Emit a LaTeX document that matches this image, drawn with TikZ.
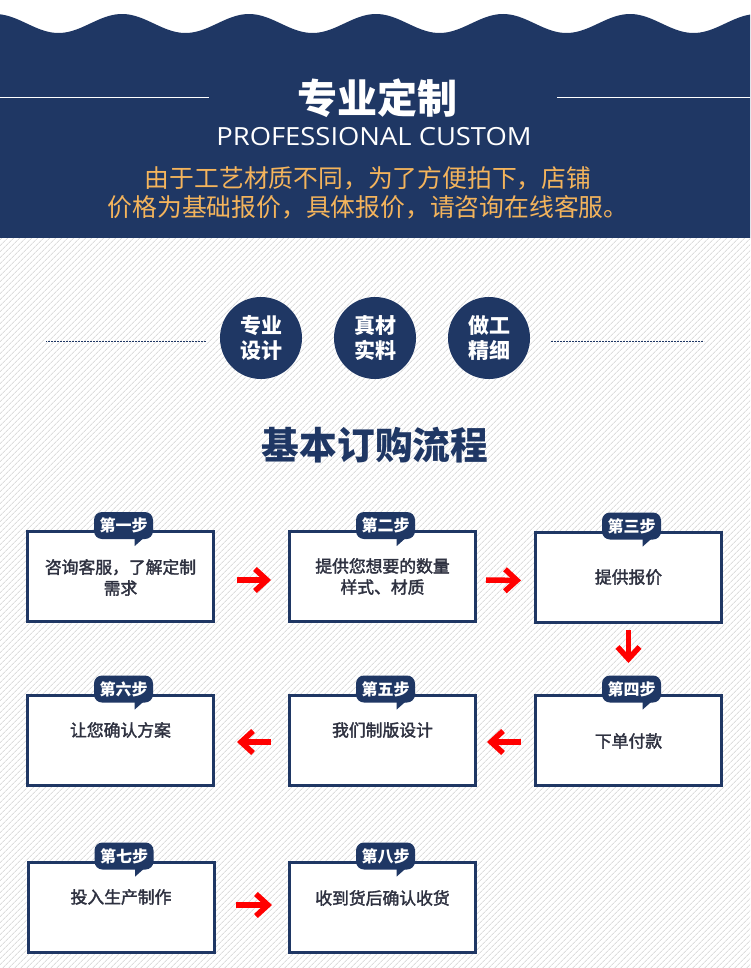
\documentclass[tikz,border=0pt]{standalone}
\usepackage{fontspec}
\setmainfont{Noto Sans CJK SC}
\newfontfamily\latinf{Open Sans}
\newfontfamily\cjkmed[FakeBold=2]{Noto Sans CJK SC}
\usetikzlibrary{arrows.meta,patterns.meta,calc}
\definecolor{navy}{HTML}{1F3764}
\definecolor{gold}{HTML}{F4B45C}
\definecolor{ink}{HTML}{2E3140}
\definecolor{stripe}{HTML}{DDDDDD}
\begin{document}
\begin{tikzpicture}[x=1pt,y=-1pt,
  stepbox/.style={draw=navy, line width=3pt, fill=white, minimum width=186pt, minimum height=90pt, inner sep=0pt},
  bubble/.style={fill=navy, rounded corners=8pt, minimum width=59pt, minimum height=27pt, inner sep=0pt, text=white, font=\bfseries\fontsize{16}{16}\selectfont},
  boxtext/.style={text=ink, align=center, font=\cjkmed\fontsize{16.8}{21}\selectfont, inner sep=0pt},
  flow/.style={draw=red, line width=5.5pt, -{Straight Barb[length=12pt,width=22pt]}},
  badge/.style={circle, fill=navy, minimum size=82pt, inner sep=0pt, text=white, align=center, font=\bfseries\fontsize{21}{25}\selectfont},
]
\useasboundingbox (0,0) rectangle (750,968);
\fill[white] (0,0) rectangle (750,968);
\fill[pattern={Lines[angle=45,distance=4pt,line width=0.9pt]}, pattern color=stripe] (0,238) rectangle (750,968);
% header
\fill[navy] (0,238) -- plot[domain=0:750, samples=150, smooth] (\x, {23.5-9.5*cos((\x+5)*2.8346)}) -- (750,238) -- cycle;
\draw[white, line width=1.2pt] (0,97.5) -- (209,97.5) (557,97.5) -- (750,97.5);
\node[text=white, font=\bfseries\fontsize{40}{40}\selectfont] (title) at (377,98) {专业定制};
\node[text=white, font=\latinf\fontsize{25}{25}\selectfont] (subtitle) at (374,137) {\scalebox{1.095}[1]{PROFESSIONAL CUSTOM}};
\node[text=gold, font=\fontsize{24.8}{29}\selectfont, align=center, inner sep=0pt] (note) at (368,192.5) {由于工艺材质不同，为了方便拍下，店铺\\价格为基础报价，具体报价，请咨询在线客服。};
% badges
\node[badge] (c1) at (261,338) {专业\\设计};
\node[badge] (c2) at (375,338) {真材\\实料};
\node[badge] (c3) at (489,338) {做工\\精细};
\draw[navy, line width=1pt, dash pattern=on 2pt off 1pt] ([xshift=-14pt,yshift=-3pt]c1.west) -- ([xshift=-174pt,yshift=-3pt]c1.west);
\draw[navy, line width=1pt, dash pattern=on 2pt off 1pt] ([xshift=21pt,yshift=-3pt]c3.east) -- ([xshift=174pt,yshift=-3pt]c3.east);
\node[text=navy, font=\bfseries\fontsize{37.7}{38}\selectfont] (flowtitle) at (375,445) {基本订购流程};
% boxes
\node[stepbox] (s1) at (120.5,576.5) {};
\node[stepbox] (s2) at (382.5,576.5) {};
\node[stepbox] (s3) at (628.5,577) {};
\node[stepbox] (s4) at (628.5,740) {};
\node[stepbox] (s5) at (382.5,740) {};
\node[stepbox] (s6) at (120.5,740) {};
\node[stepbox] (s7) at (121,907) {};
\node[stepbox] (s8) at (382.5,907) {};
\foreach \s/\lab in {s1/第一步, s2/第二步, s3/第三步, s4/第四步, s5/第五步, s6/第六步, s7/第七步, s8/第八步}{
  \node[bubble] (b\s) at ([xshift=3pt,yshift=4.5pt]\s.north) {\lab};
  \fill[navy] ([xshift=11pt,yshift=1pt]b\s.south) -- ++(0pt,-8pt) -- ++(9pt,8pt) -- cycle;
}
\node[boxtext] (t1) at ([yshift=-1pt]s1.center) {咨询客服，了解定制\\需求};
\node[boxtext] (t2) at (s2.center) {提供您想要的数量\\样式、材质};
\node[boxtext] (t3) at (s3.center) {提供报价};
\node[boxtext] (t4) at ([yshift=-1pt]s4.center) {下单付款};
\node[boxtext] (t5) at ([yshift=10pt]s5.center) {我们制版设计};
\node[boxtext] (t6) at ([yshift=10pt]s6.center) {让您确认方案};
\node[boxtext] (t7) at ([yshift=10pt]s7.center) {投入生产制作};
\node[boxtext] (t8) at ([yshift=9pt]s8.center) {收到货后确认收货};
% arrows
\draw[flow, shorten <=22pt, shorten >=17pt] ([yshift=-3.5pt]s1.east) -- ([yshift=-3.5pt]s2.west);
\draw[flow, shorten <=9pt, shorten >=13pt] ([yshift=-3.5pt]s2.east) -- ([yshift=-3.5pt]s3.west);
\draw[flow, shorten <=6.5pt, shorten >=30.5pt] (s3.south) -- (s4.north);
\draw[flow, shorten <=13pt, shorten >=10pt] ([yshift=-2pt]s4.west) -- ([yshift=-2pt]s5.east);
\draw[flow, shorten <=17pt, shorten >=22pt] ([yshift=-2pt]s5.west) -- ([yshift=-2pt]s6.east);
\draw[flow, shorten <=20pt, shorten >=16pt] ([yshift=2pt]s7.east) -- ([yshift=2pt]s8.west);
\end{tikzpicture}
\end{document}
